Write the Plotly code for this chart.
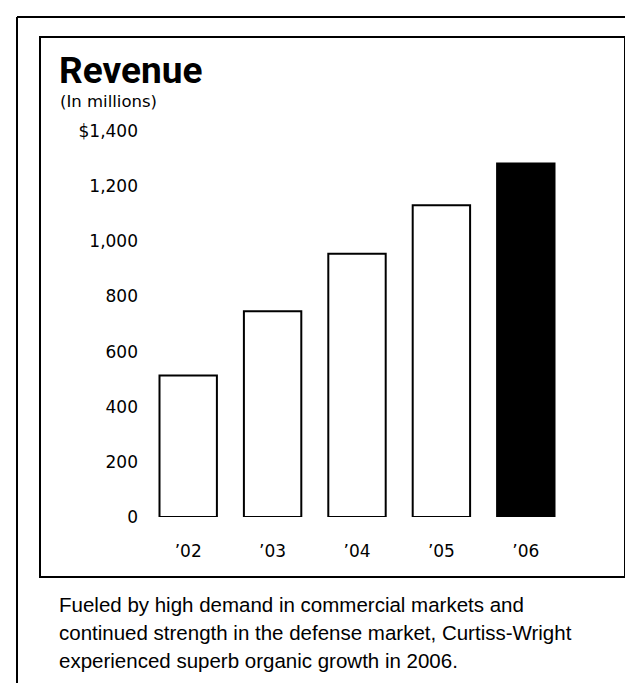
import plotly.graph_objects as go

# ---- data ----
years = ["’02", "’03", "’04", "’05", "’06"]
revenue = [513, 746, 955, 1131, 1282]
bar_fill = ["white", "white", "white", "white", "black"]
tick_values = [0, 200, 400, 600, 800, 1000, 1200, 1400]
tick_labels = ["0", "200", "400", "600", "800", "1,000", "1,200", "$1,400"]
title_text = "Revenue"
subtitle_text = "(In millions)"
caption_lines = [
    "Fueled by high demand in commercial markets and",
    "continued strength in the defense market, Curtiss-Wright",
    "experienced superb organic growth in 2006.",
]

W, H = 633, 683
L, R, T, B = 138, 73, 123, 174
PW, PH = W - L - R, H - T - B


def px(x):
    return (x - L) / PW


def py(y):
    return 1 - (y - T) / PH


fig = go.Figure(
    go.Bar(
        x=years,
        y=revenue,
        width=0.68,
        marker=dict(color=bar_fill, line=dict(color="black", width=2)),
    )
)

shapes = [
    # outer frame (top and left lines)
    dict(type="line", xref="paper", yref="paper", x0=px(9), x1=px(633), y0=py(9), y1=py(9),
         line=dict(color="black", width=2)),
    dict(type="line", xref="paper", yref="paper", x0=px(9), x1=px(9), y0=py(9), y1=py(683),
         line=dict(color="black", width=2)),
    # inner box
    dict(type="rect", xref="paper", yref="paper", x0=px(32), x1=px(617), y0=py(29), y1=py(569),
         line=dict(color="black", width=2), fillcolor="rgba(0,0,0,0)"),
]

annotations = [
    dict(text="<b>" + title_text + "</b>", xref="paper", yref="paper", x=px(49), y=py(63),
         xanchor="left", yanchor="middle", showarrow=False,
         font=dict(family="Roboto", size=37, color="black")),
    dict(text=subtitle_text, xref="paper", yref="paper", x=px(50), y=py(94),
         xanchor="left", yanchor="middle", showarrow=False,
         font=dict(family="DejaVu Sans", size=16.5, color="black")),
]
for i, line in enumerate(caption_lines):
    annotations.append(
        dict(text=line, xref="paper", yref="paper", x=px(49), y=py(596 + i * 28),
             xanchor="left", yanchor="middle", showarrow=False,
             font=dict(family="Liberation Sans", size=20.5, color="black"))
    )

fig.update_layout(
    width=W, height=H, autosize=False,
    margin=dict(l=L, r=R, t=T, b=B, pad=0),
    paper_bgcolor="white", plot_bgcolor="white",
    showlegend=False,
    shapes=shapes,
    annotations=annotations,
    xaxis=dict(showgrid=False, zeroline=False, showline=False, ticks="",
               ticklabelstandoff=22,
               tickfont=dict(family="DejaVu Sans", size=17, color="black"),
               range=[-0.5, 4.5]),
    yaxis=dict(showgrid=False, zeroline=False, showline=False, ticks="",
               range=[0, 1400], tickvals=tick_values, ticktext=tick_labels,
               ticklabelstandoff=7,
               tickfont=dict(family="DejaVu Sans", size=17, color="black")),
)

fig.write_html("out.html")
